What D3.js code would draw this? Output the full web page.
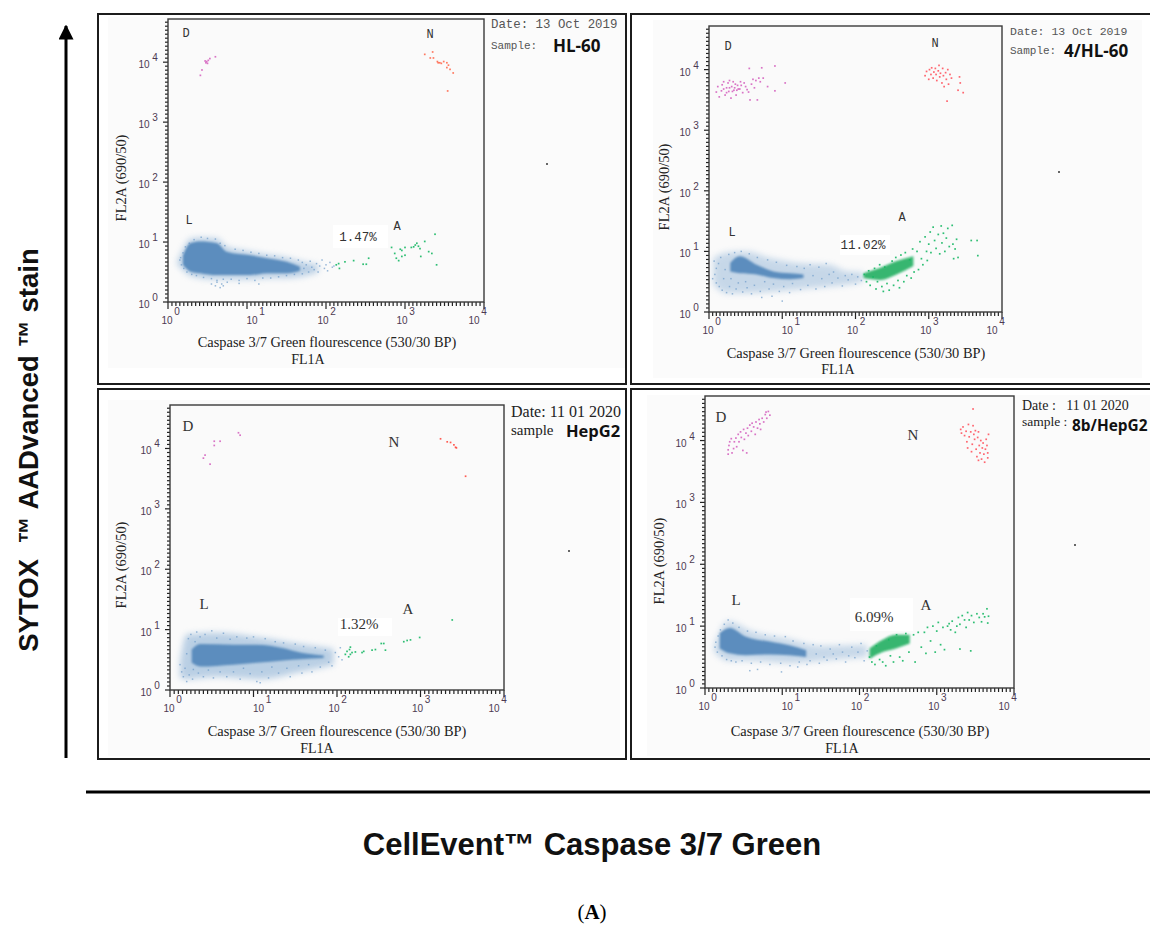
<!DOCTYPE html>
<html>
<head>
<meta charset="utf-8">
<script src="https://cdn.jsdelivr.net/npm/d3@7"></script>
<style>
html, body { margin: 0; padding: 0; background: #fff; }
svg { display: block; }
text { white-space: pre; }
</style>
</head>
<body>
<script>
//all event values below are log10 readings: [FL1A, FL2A]

//tick labels and shared text
var decades = [0, 1, 2, 3, 4];
var xTitle = "Caspase 3/7 Green flourescence (530/30 BP)";
var yTitle = "FL2A (690/50)";
var xSub = "FL1A";

//HL-60
var hl60Core = [[.19,.78,.62],[.28,.98,.51],[.41,1.01,.48],[.62,.98,.45],[.74,.84,.45],[1.04,.78,.45],[1.25,.73,.48],[1.5,.67,.48],[1.67,.59,.52]];
var hl60Halo = [[.12,.68,.62],[.2,.9,.52],[.28,1.05,.44],[.41,1.07,.40],[.62,1.06,.38],[.74,.92,.38],[1.04,.84,.38],[1.25,.79,.40],[1.5,.74,.40],[1.67,.68,.42],[1.9,.62,.5]];
var hl60Live = [[.15,.70],[.17,.62],[.16,.74],[.19,.82],[.2,.56],[.22,.92],[.24,.5],[.27,.98],[.3,.46],[.33,1.04],[.36,.44],[.42,1.08],[.45,.41],[.5,1.06],[.55,.39],[.6,1.05],[.62,.36],[.66,.98],[.7,.38],[.72,.94],[.8,.38],[.85,.88],[.9,.36],[.95,.86],[1.0,.39],[1.05,.83],[1.1,.36],[1.15,.81],[1.2,.4],[1.25,.78],[1.3,.4],[1.35,.77],[1.4,.42],[1.45,.74],[1.5,.44],[1.55,.73],[1.6,.46],[1.65,.70],[1.7,.47],[1.7,.66],[1.72,.56],[1.75,.62],[1.78,.5],[1.8,.68],[1.82,.58],[1.85,.54],[1.88,.64],[1.9,.5],[1.92,.6],[1.95,.7],[1.98,.56],[2.0,.62],[2.02,.52],[2.05,.66],[2.08,.58],[2.1,.6],[.55,.3],[.6,.27],[.62,.33],[.66,.24],[.68,.3],[.7,.27],[.75,.33],[1.15,.3],[.9,.31]];
var hl60Apop = [[2.13,.62],[2.17,.56],[2.16,.64],[2.24,.67],[2.35,.69],[2.47,.63],[2.51,.63],[2.54,.73],[2.83,.91],[2.87,.81],[2.89,.73],[2.92,.69],[2.96,.76],[3.0,.78],[2.96,.86],[3.0,.91],[2.94,.88],[3.08,.91],[3.11,.92],[3.15,.98],[3.19,.89],[3.25,1.01],[3.30,.84],[3.34,.81],[3.20,.76],[3.40,.62],[3.38,1.13],[3.13,.95],[3.17,.93]];
var hl60Dead = [[.49,4.01],[.47,4.02],[.51,4.03],[.53,4.06],[.60,4.09],[.43,3.87],[.41,3.78],[.50,3.98],[.48,3.99]];
var hl60Necro = [[3.25,4.13],[3.35,4.17],[3.32,4.07],[3.36,4.07],[3.41,4.01],[3.44,3.99],[3.49,4.01],[3.53,3.99],[3.55,3.95],[3.53,3.91],[3.57,3.88],[3.61,3.82],[3.54,3.52],[3.42,3.99],[3.46,3.98]];

//4/HL-60
var treatCore = [[.29,.81,.67],[.42,.92,.64],[.65,.78,.62],[.88,.67,.56],[1.11,.64,.54],[1.29,.62,.56]];
var treatHalo = [[.06,.89,.45],[.24,.98,.31],[.51,1.0,.31],[.83,.89,.33],[1.2,.81,.37],[1.65,.78,.42],[1.88,.67,.45],[2.1,.66,.5]];
var treatLive = [[.07,.84],[.08,.62],[.05,.55],[.1,.72],[.1,.48],[.13,.8],[.14,.42],[.16,.9],[.18,.36],[.2,.55],[.22,.7],[.24,.32],[.27,.95],[.28,.42],[.3,.55],[.32,.3],[.35,.98],[.37,.38],[.4,.48],[.44,1.0],[.46,.33],[.5,.5],[.52,.4],[.55,.96],[.58,.3],[.62,.44],[.66,.9],[.7,.34],[.72,.24],[.76,.5],[.8,.86],[.82,.38],[.86,.26],[.88,.46],[.92,.82],[.96,.34],[1.0,.18],[1.02,.42],[1.06,.77],[1.1,.32],[1.14,.47],[1.2,.75],[1.25,.37],[1.3,.72],[1.35,.44],[1.38,.78],[1.42,.6],[1.46,.38],[1.5,.74],[1.54,.55],[1.58,.42],[1.6,.8],[1.64,.62],[1.68,.48],[1.7,.66],[1.76,.56],[1.82,.43],[1.86,.6],[1.9,.53],[1.95,.62],[2.0,.46],[2.03,.58],[2.08,.52]];
var treatGreenCore = [[2.11,.64,.56],[2.34,.73,.53],[2.56,.84,.62],[2.79,.92,.76]];
var treatApop = [[2.12,.62],[2.15,.5],[2.18,.68],[2.2,.44],[2.24,.58],[2.26,.72],[2.28,.38],[2.3,.5],[2.33,.78],[2.36,.42],[2.38,.34],[2.4,.74],[2.43,.47],[2.46,.36],[2.5,.84],[2.52,.44],[2.55,.9],[2.58,.52],[2.6,.4],[2.62,.94],[2.66,.5],[2.68,.98],[2.7,.6],[2.74,.86],[2.76,.56],[2.78,1.04],[2.8,.66],[2.84,1.0],[2.86,.7],[2.88,1.16],[2.9,.88],[2.92,.78],[2.95,1.24],[2.97,1.0],[2.98,.85],[3.0,1.12],[3.02,1.32],[3.03,.98],[3.06,1.4],[3.08,1.18],[3.1,1.05],[3.13,1.28],[3.15,.96],[3.17,1.42],[3.18,1.14],[3.2,1.3],[3.22,1.0],[3.24,1.22],[3.26,1.38],[3.28,1.08],[3.32,1.43],[3.33,1.12],[3.36,1.04],[3.38,1.2],[3.4,.9],[3.34,.88],[3.58,1.18],[3.66,1.18],[3.67,.93]];
var treatDead = [[.1,3.63],[.12,3.72],[.14,3.55],[.17,3.65],[.18,3.75],[.2,3.8],[.22,3.58],[.24,3.7],[.26,3.78],[.27,3.64],[.28,3.82],[.3,3.53],[.31,3.72],[.33,3.8],[.34,3.66],[.36,3.76],[.37,3.58],[.39,3.74],[.4,3.68],[.42,3.68],[.44,3.74],[.46,3.62],[.48,3.78],[.5,3.72],[.52,3.67],[.54,3.63],[.55,4.02],[.56,3.5],[.58,3.76],[.6,3.84],[.62,3.7],[.64,3.82],[.66,3.5],[.68,3.86],[.7,3.8],[.72,4.03],[.74,3.86],[.8,3.72],[.9,3.65],[.9,4.06],[1.04,3.78],[.2,3.68],[.24,3.62],[.28,3.7],[.32,3.64],[.35,3.7],[.38,3.66],[.43,3.8]];
var treatNecro = [[2.95,3.9],[2.97,3.97],[3.0,3.84],[3.01,4.0],[3.03,3.92],[3.04,4.03],[3.06,3.86],[3.07,3.96],[3.09,4.02],[3.1,3.92],[3.11,3.82],[3.13,3.98],[3.14,4.07],[3.15,3.88],[3.16,3.94],[3.18,3.78],[3.19,4.02],[3.2,3.9],[3.21,3.72],[3.23,3.95],[3.24,3.84],[3.26,4.0],[3.27,3.76],[3.29,3.92],[3.31,3.86],[3.42,3.88],[3.43,3.78],[3.4,3.66],[3.47,3.62],[3.25,3.48]];

//HepG2
var hepCore = [[.26,.67,.45],[.36,.76,.39],[.76,.75,.42],[1.04,.75,.45],[1.36,.69,.49],[1.56,.62,.51],[1.84,.57,.53]];
var hepHalo = [[.12,.48,.2],[.2,.92,.18],[.56,.95,.22],[1.08,.87,.18],[1.56,.76,.3],[1.96,.68,.42]];
var hepLive = [[.12,.42],[.14,.3],[.16,.22],[.18,.36],[.2,.14],[.2,.6],[.22,.85],[.23,.25],[.25,.92],[.27,.18],[.28,.34],[.3,.8],[.32,.96],[.34,.28],[.36,.88],[.4,.22],[.42,.92],[.46,.33],[.5,.98],[.52,.2],[.56,.86],[.6,.3],[.64,.94],[.68,.22],[.72,.84],[.76,.3],[.8,.88],[.84,.18],[.88,.36],[.92,.86],[.96,.27],[1.0,.88],[1.04,.14],[1.08,.12],[1.1,.3],[1.14,.85],[1.18,.2],[1.22,.38],[1.26,.8],[1.3,.28],[1.36,.78],[1.4,.36],[1.44,.22],[1.5,.76],[1.54,.4],[1.58,.28],[1.6,.72],[1.66,.42],[1.7,.3],[1.74,.7],[1.8,.38],[1.86,.66],[1.9,.46],[1.94,.4],[1.98,.62],[2.02,.55],[2.04,.7],[2.06,.5]];
var hepApop = [[2.10,.59],[2.12,.64],[2.15,.67],[2.16,.59],[2.18,.62],[2.22,.63],[2.30,.62],[2.32,.64],[2.42,.66],[2.46,.67],[2.53,.77],[2.56,.77],[2.58,.66],[2.80,.8],[2.84,.82],[2.88,.83],[2.99,.87],[3.38,1.16],[2.14,.55],[2.16,.71]];
var hepDead = [[.40,3.84],[.42,3.89],[.48,3.74],[.53,4.05],[.53,4.12],[.60,4.12],[.82,4.26],[.84,4.22]];
var hepNecro = [[3.24,4.16],[3.32,4.11],[3.36,4.1],[3.40,4.06],[3.42,4.02],[3.43,4.01],[3.54,3.54]];

//8b/HepG2
var eightCore = [[.19,.89,.64],[.32,.97,.56],[.53,.83,.53],[.84,.75,.54],[1.09,.69,.53],[1.31,.61,.50]];
var eightHalo = [[.12,.7,.58],[.3,1.08,.44],[.6,.92,.44],[1.1,.79,.4],[1.5,.68,.44],[2.1,.7,.5]];
var eightLive = [[.13,.66],[.14,.74],[.16,.58],[.17,.84],[.2,.94],[.22,.52],[.25,1.03],[.28,.46],[.3,1.1],[.34,.44],[.36,1.05],[.4,.42],[.44,.98],[.48,.44],[.55,.92],[.6,.4],[.66,.9],[.68,.3],[.72,.42],[.78,.86],[.84,.38],[.9,.84],[.98,.4],[1.04,.83],[1.1,.36],[1.14,.76],[1.2,.34],[1.22,.42],[1.28,.72],[1.32,.38],[1.36,.44],[1.4,.7],[1.44,.55],[1.48,.4],[1.5,.68],[1.54,.5],[1.58,.45],[1.62,.63],[1.66,.55],[1.7,.47],[1.74,.7],[1.78,.58],[1.82,.42],[1.86,.52],[1.9,.66],[1.94,.49],[1.98,.58],[2.02,.72],[2.06,.44],[2.1,.6],[.99,.26],[.58,.28]];
var eightGreenCore = [[2.13,.64,.47],[2.3,.78,.58],[2.47,.86,.64],[2.65,.86,.72]];
var eightApop = [[2.13,.5],[2.16,.42],[2.2,.38],[2.22,.68],[2.26,.46],[2.3,.42],[2.34,.36],[2.38,.78],[2.4,.52],[2.44,.42],[2.48,.86],[2.52,.5],[2.56,.44],[2.6,.88],[2.64,.58],[2.7,.86],[2.72,.42],[2.76,.9],[2.8,.66],[2.84,.9],[2.86,.56],[2.88,.98],[2.92,.76],[2.95,1.0],[2.98,.58],[3.0,.92],[3.02,1.06],[3.05,.7],[3.08,.98],[3.1,.62],[3.14,1.0],[3.16,1.04],[3.18,.94],[3.2,1.08],[3.24,.9],[3.26,1.0],[3.28,1.14],[3.3,1.03],[3.33,1.17],[3.36,1.1],[3.38,.98],[3.4,1.22],[3.42,1.1],[3.45,1.17],[3.48,1.06],[3.52,1.2],[3.55,1.14],[3.58,1.07],[3.6,1.2],[3.62,1.15],[3.65,1.28],[3.67,1.16],[3.66,1.05],[3.3,.63],[3.44,.6]];
var eightDead = [[.30,3.78],[.30,3.85],[.31,3.92],[.32,3.98],[.34,4.03],[.35,3.8],[.37,3.87],[.38,3.98],[.4,4.04],[.41,3.9],[.43,4.1],[.44,3.98],[.46,4.14],[.47,4.05],[.49,3.84],[.5,4.18],[.51,4.02],[.53,4.12],[.54,3.8],[.55,4.2],[.56,4.08],[.58,4.25],[.6,4.15],[.61,4.28],[.63,4.22],[.65,4.1],[.66,4.3],[.68,4.2],[.7,4.34],[.71,4.27],[.72,4.18],[.74,4.36],[.76,4.3],[.78,4.42],[.79,4.46],[.8,4.36],[.82,4.47],[.84,4.41]];
var eightNecro = [[3.31,4.18],[3.32,4.12],[3.34,4.22],[3.36,4.08],[3.38,4.15],[3.39,3.98],[3.4,3.88],[3.41,4.26],[3.42,4.06],[3.44,4.14],[3.45,3.82],[3.46,3.94],[3.47,4.24],[3.48,4.1],[3.49,4.02],[3.5,4.16],[3.51,3.86],[3.52,3.74],[3.53,4.05],[3.54,4.14],[3.55,3.92],[3.56,3.8],[3.57,4.0],[3.58,3.7],[3.59,3.88],[3.6,3.96],[3.61,3.78],[3.62,3.65],[3.63,3.86],[3.64,4.02],[3.65,3.92],[3.66,3.8],[3.67,4.1],[3.66,3.72],[3.47,4.51],[3.54,3.68]];

var width = 1150, height = 925;

//panels: plot box, captions and the readings above
var panels = [
  {box: [168, 484, 19, 302], frame: [98, 14, 528, 370], serif: false, dateSize: 12.4, nameSize: 17,
   core: hl60Core, halo: hl60Halo, live: hl60Live, apop: hl60Apop, dead: hl60Dead, necro: hl60Necro, necroColor: "#ff6a50",
   letters: [["D",186,37],["N",430,38],["L",189,224],["A",397,230]],
   pct: ["1.47%",358,241], pctBox: [333,225,55,23],
   xt: [327,347], sub: [308,364], yt: [126,178],
   date: ["Date: 13 Oct 2019",491,28], sample: ["Sample:",491,49], name: ["HL-60",553,52],
   stray: [546,163], grey: [108,17,517,351]},
  {box: [709, 1002, 26, 312], frame: [631, 14, 530, 370], serif: false, dateSize: 11.5, nameSize: 17,
   core: treatCore, halo: treatHalo, live: treatLive, greenCore: treatGreenCore, apop: treatApop, dead: treatDead, necro: treatNecro, necroColor: "#ff5560",
   letters: [["D",728,50],["N",935,47],["L",732,236],["A",902,221]],
   pct: ["11.02%",863,249], pctBox: [840,235,50,20],
   xt: [856,358], sub: [838,374], yt: [669,187],
   date: ["Date: 13 Oct 2019",1010,35], sample: ["Sample:",1010,54], name: ["4/HL-60",1064,57],
   stray: [1058,171], grey: [653,20,489,358]},
  {box: [170, 504, 405, 690], frame: [98, 389, 528, 370], serif: true, dateSize: 16, nameSize: 16.5,
   core: hepCore, halo: hepHalo, live: hepLive, apop: hepApop, dead: hepDead, necro: hepNecro, necroColor: "#ff4a40",
   letters: [["D",188,431],["N",394,447],["L",204,609],["A",408,614]],
   pct: ["1.32%",359,629], pctBox: [338,618,54,18],
   xt: [337,736], sub: [317,753], yt: [126,565],
   date: ["Date: 11 01 2020",511,417], sample: ["sample",511,435], name: ["HepG2",566,437],
   stray: [568,550], grey: [108,400,512,356]},
  {box: [705, 1014, 396, 688], frame: [631, 389, 530, 370], serif: true, dateSize: 14, nameSize: 15.4,
   core: eightCore, halo: eightHalo, live: eightLive, greenCore: eightGreenCore, apop: eightApop, dead: eightDead, necro: eightNecro, necroColor: "#ff5560",
   letters: [["D",721,422],["N",913,440],["L",736,605],["A",926,610]],
   pct: ["6.09%",874,622], pctBox: [850,598,63,33],
   xt: [860,736], sub: [842,753], yt: [664,561],
   date: ["Date :   11 01 2020",1022,410], sample: ["sample :",1022,426], name: ["8b/HepG2",1072,431],
   stray: [1074,544], grey: [647,395,503,361]}
];

//source tick labels sit a little off their ticks
var xLabelNudge = [-1, 5, -3, -3, -10];

var svg = d3.select("body").append("svg")
    .attr("width", width)
    .attr("height", height);

//soft edges for the dense populations
var defs = svg.append("defs");
[["blurHalo", 3], ["blurCore", 1.1], ["blurDot", 0.3]].forEach(function(f){
    defs.append("filter").attr("id", f[0])
        .attr("x", "-30%").attr("y", "-30%").attr("width", "160%").attr("height", "160%")
        .append("feGaussianBlur").attr("stdDeviation", f[1]);
});

panels.forEach(drawPanel);
drawFurniture();

function drawPanel(p){
    var g = svg.append("g");
    var L = p.box[0], R = p.box[1], T = p.box[2], B = p.box[3];
    var serif = "'Liberation Serif', serif", mono = "'Liberation Mono', monospace";
    var labelFont = p.serif ? serif : mono;

    //grey screenshot background
    g.append("rect").attr("x", p.grey[0]).attr("y", p.grey[1]).attr("width", p.grey[2]).attr("height", p.grey[3]).attr("fill", "#fbfbfb");
    g.append("rect").attr("x", L).attr("y", T).attr("width", R - L).attr("height", B - T).attr("fill", "#fafafa");

    var x = d3.scaleLog().domain([1, 1e4]).range([L, R]);
    var y = d3.scaleLog().domain([1, Math.pow(10, 4.72)]).range([B, T]);
    var px = function(v){ return x(Math.pow(10, v)); };
    var py = function(v){ return y(Math.pow(10, v)); };

    var band = d3.area()
        .x(function(d){ return px(d[0]); })
        .y0(function(d){ return py(d[2]); })
        .y1(function(d){ return py(d[1]); })
        .curve(d3.curveMonotoneX);

    //dense blue population
    g.append("path").attr("d", band(p.halo)).attr("fill", "#7aa5cf").attr("opacity", p.greenCore ? 0.4 : 0.5).attr("filter", "url(#blurHalo)");
    g.append("path").attr("d", band(p.core)).attr("fill", "#5b8dbe").attr("filter", "url(#blurCore)");
    if(p.greenCore){
        g.append("path").attr("d", band(p.greenCore)).attr("fill", "#12ab58").attr("opacity", 0.85).attr("filter", "url(#blurCore)");
    }

    dots(g, p.live, "#6d9bc9", 0.7, 1.5, px, py);
    dots(g, p.apop, "#19b865", 0.9, 1.7, px, py);
    dots(g, p.dead, "#d565c0", 0.9, 1.7, px, py);
    dots(g, p.necro, p.necroColor, 0.9, 1.7, px, py);

    //dense comb of ticks like the cytometer software
    var xCombVals = d3.range(0, 81).map(function(i){ return Math.pow(10, i / 20); });
    var yCombVals = d3.range(0, 71).map(function(i){ return Math.pow(10, i / 15); });
    g.append("g").selectAll("line").data(xCombVals).enter().append("line")
        .attr("x1", function(d){ return x(d); })
        .attr("x2", function(d){ return x(d); })
        .attr("y1", B)
        .attr("y2", function(d, i){ return B + (i % 20 == 0 ? 7 : 4); })
        .attr("stroke", "#222").attr("stroke-width", 1.2);
    g.append("g").selectAll("line").data(yCombVals).enter().append("line")
        .attr("y1", function(d){ return y(d); })
        .attr("y2", function(d){ return y(d); })
        .attr("x1", L)
        .attr("x2", function(d, i){ return L - (i % 15 == 0 ? 5 : 3); })
        .attr("stroke", "#222").attr("stroke-width", 1.2);

    g.append("rect").attr("x", L).attr("y", T).attr("width", R - L).attr("height", B - T)
        .attr("fill", "none").attr("stroke", "#3a3a3a").attr("stroke-width", 1.4);

    //tick labels, "10" with a raised exponent
    decades.forEach(function(d, i){
        var tx = px(d) + xLabelNudge[i];
        tickLabel(g, tx, B + 22, tx + 10, B + 13, d);
        tickLabel(g, L - 24, py(d) + 6, L - 13, py(d) - 1, d);
    });

    //white patch behind the percentage
    g.append("rect").attr("x", p.pctBox[0]).attr("y", p.pctBox[1]).attr("width", p.pctBox[2]).attr("height", p.pctBox[3]).attr("fill", "#fff");
    g.append("text").attr("x", p.pct[1]).attr("y", p.pct[2]).attr("text-anchor", "middle")
        .attr("font-family", labelFont).attr("font-size", p.serif ? 15 : 12.5).attr("fill", "#333").text(p.pct[0]);

    g.selectAll(".quad").data(p.letters).enter().append("text")
        .attr("class", "quad")
        .attr("x", function(d){ return d[1]; })
        .attr("y", function(d){ return d[2]; })
        .attr("text-anchor", "middle")
        .attr("font-family", labelFont)
        .attr("font-size", p.serif ? 15 : 12)
        .attr("fill", "#333")
        .text(function(d){ return d[0]; });

    g.append("text").attr("x", p.xt[0]).attr("y", p.xt[1]).attr("text-anchor", "middle")
        .attr("font-family", serif).attr("font-size", 14.4).attr("fill", "#222").text(xTitle);
    g.append("text").attr("x", p.sub[0]).attr("y", p.sub[1]).attr("text-anchor", "middle")
        .attr("font-family", serif).attr("font-size", 14).attr("fill", "#222").text(xSub);
    g.append("text").attr("transform", "translate(" + p.yt[0] + "," + p.yt[1] + ") rotate(-90)")
        .attr("text-anchor", "middle")
        .attr("font-family", serif).attr("font-size", 14.4).attr("fill", "#222").text(yTitle);

    g.append("text").attr("x", p.date[1]).attr("y", p.date[2])
        .attr("font-family", labelFont).attr("font-size", p.dateSize)
        .attr("fill", p.serif ? "#222" : "#555").text(p.date[0]);
    g.append("text").attr("x", p.sample[1]).attr("y", p.sample[2])
        .attr("font-family", labelFont).attr("font-size", p.serif ? (p.sample[0] == "sample" ? 15 : 13.5) : 11)
        .attr("fill", p.serif ? "#222" : "#555").text(p.sample[0]);
    g.append("text").attr("x", p.name[1]).attr("y", p.name[2])
        .attr("font-family", "'Open Sans', sans-serif").attr("font-size", p.nameSize).attr("font-weight", 700)
        .attr("fill", "#111").text(p.name[0]);

    g.append("rect").attr("x", p.stray[0]).attr("y", p.stray[1]).attr("width", 2).attr("height", 2).attr("fill", "#666");

    //panel frame on top
    g.append("rect").attr("x", p.frame[0]).attr("y", p.frame[1]).attr("width", p.frame[2]).attr("height", p.frame[3])
        .attr("fill", "none").attr("stroke", "#1c1c1c").attr("stroke-width", 2);
}

function dots(g, rows, color, alpha, size, px, py){
    g.append("g").attr("filter", "url(#blurDot)").selectAll("rect").data(rows).enter().append("rect")
        .attr("x", function(d){ return px(d[0]) - size / 2; })
        .attr("y", function(d){ return py(d[1]) - size / 2; })
        .attr("width", size)
        .attr("height", size)
        .attr("fill", color)
        .attr("opacity", alpha);
}

function tickLabel(g, bx, by, sx, sy, d){
    var c = "#4d3a52";
    g.append("text").attr("x", bx).attr("y", by).attr("text-anchor", "middle")
        .attr("font-family", "'Liberation Sans', sans-serif").attr("font-size", 10).attr("fill", c).text("10");
    g.append("text").attr("x", sx).attr("y", sy).attr("text-anchor", "middle")
        .attr("font-family", "'Liberation Sans', sans-serif").attr("font-size", 10).attr("fill", c).text(d);
}

function drawFurniture(){
    defs.append("marker")
        .attr("id", "head").attr("viewBox", "0 0 10 10").attr("refX", 9).attr("refY", 5)
        .attr("markerWidth", 5).attr("markerHeight", 5).attr("orient", "auto")
        .append("path").attr("d", "M0,0L10,5L0,10Z").attr("fill", "#000");

    svg.append("line").attr("x1", 66).attr("x2", 66).attr("y1", 758).attr("y2", 26)
        .attr("stroke", "#000").attr("stroke-width", 3).attr("marker-end", "url(#head)");
    svg.append("line").attr("x1", 86).attr("x2", 1150).attr("y1", 792).attr("y2", 792)
        .attr("stroke", "#000").attr("stroke-width", 3);

    svg.append("text").attr("transform", "translate(38,450) rotate(-90)")
        .attr("text-anchor", "middle")
        .attr("font-family", "'Liberation Sans', sans-serif").attr("font-size", 27.5).attr("font-weight", "bold")
        .attr("fill", "#111").text("SYTOX  \u2122 AADvanced \u2122 stain");

    svg.append("text").attr("x", 592).attr("y", 855).attr("text-anchor", "middle")
        .attr("font-family", "'Liberation Sans', sans-serif").attr("font-size", 31).attr("font-weight", "bold")
        .attr("fill", "#111").text("CellEvent\u2122 Caspase 3/7 Green");

    var cap = svg.append("text").attr("x", 592).attr("y", 919).attr("text-anchor", "middle")
        .attr("font-family", "'Liberation Serif', serif").attr("font-size", 21).attr("fill", "#000");
    cap.append("tspan").text("(");
    cap.append("tspan").attr("font-weight", "bold").text("A");
    cap.append("tspan").text(")");
}
</script>
</body>
</html>
